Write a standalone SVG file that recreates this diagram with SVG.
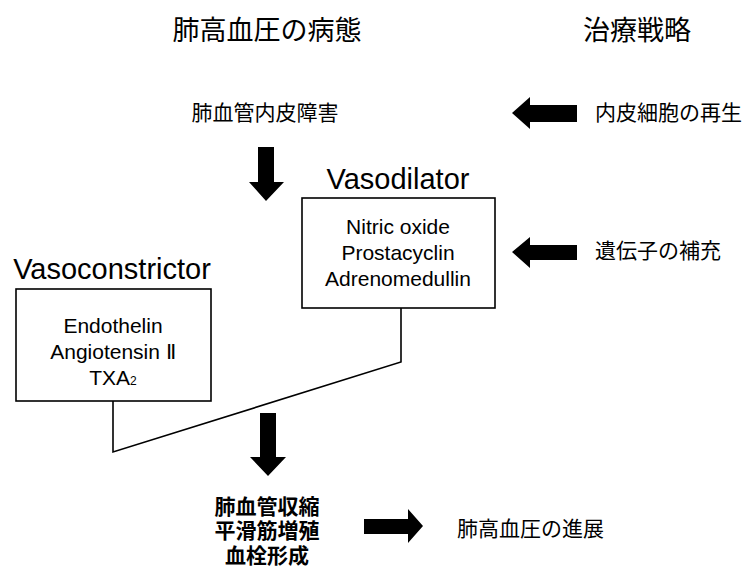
<svg xmlns="http://www.w3.org/2000/svg" width="745" height="571" viewBox="0 0 745 571">
<style>
.jp{font-family:"Liberation Sans","Noto Sans CJK JP",sans-serif;fill:#000}
.en{font-family:"Liberation Sans",Arial,sans-serif;fill:#000}
.box{fill:#fff;stroke:#000;stroke-width:1.6}
.arr{fill:#000}
.ln{fill:none;stroke:#000;stroke-width:1.6}
</style>
<rect width="745" height="571" fill="#fff"/>
<g id="title-pathology"><text class="jp" x="267" y="40" font-size="27" text-anchor="middle">肺高血圧の病態</text></g>
<g id="title-strategy"><text class="jp" x="637" y="40" font-size="27" text-anchor="middle">治療戦略</text></g>
<g id="endothelial-injury"><text class="jp" x="265" y="120" font-size="21" text-anchor="middle">肺血管内皮障害</text></g>
<g id="regeneration"><text class="jp" x="595" y="120" font-size="21">内皮細胞の再生</text></g>
<g id="gene-supplement"><text class="jp" x="595" y="258" font-size="21">遺伝子の補充</text></g>
<g id="vasodilator">
<text class="en" x="398" y="189" font-size="29" text-anchor="middle">Vasodilator</text>
<rect class="box" x="302" y="198" width="193" height="110"/>
<text class="en" x="398" y="234" font-size="21" text-anchor="middle">Nitric oxide</text>
<text class="en" x="398" y="260" font-size="21" text-anchor="middle">Prostacyclin</text>
<text class="en" x="398" y="286" font-size="21" text-anchor="middle">Adrenomedullin</text>
</g>
<g id="vasoconstrictor">
<text class="en" x="112" y="279" font-size="29" text-anchor="middle">Vasoconstrictor</text>
<rect class="box" x="16" y="289" width="195" height="112"/>
<text class="en" x="113" y="333" font-size="21" text-anchor="middle">Endothelin</text>
<text class="en" x="113" y="359" font-size="21" text-anchor="middle">Angiotensin Ⅱ</text>
<text class="en" x="113" y="385" font-size="21" text-anchor="middle">TXA<tspan font-size="12">2</tspan></text>
</g>
<g id="outcome"><text class="jp" x="267" y="514" font-size="21" font-weight="bold" text-anchor="middle">肺血管収縮</text>
<text class="jp" x="267" y="538" font-size="21" font-weight="bold" text-anchor="middle">平滑筋増殖</text>
<text class="jp" x="267" y="563" font-size="21" font-weight="bold" text-anchor="middle">血栓形成</text></g>
<g id="progression"><text class="jp" x="457" y="536" font-size="21">肺高血圧の進展</text></g>
<g id="connectors">
<polygon class="arr" points="258,147 274,147 274,182 284,182 266,201 249,182 258,182"/>
<polygon class="arr" points="260,413 276,413 276,457 286,457 268,476 250,457 260,457"/>
<polygon class="arr" points="512,113 530,97 530,105 577,105 577,122 530,122 530,129"/>
<polygon class="arr" points="512,252 530,237 530,245 577,245 577,260 530,260 530,268"/>
<polygon class="arr" points="423,526 408,509 408,519 364,519 364,534 408,534 408,543"/>
<polyline class="ln" points="401,308 401,362 113,452 113,401"/>
</g>
</svg>
